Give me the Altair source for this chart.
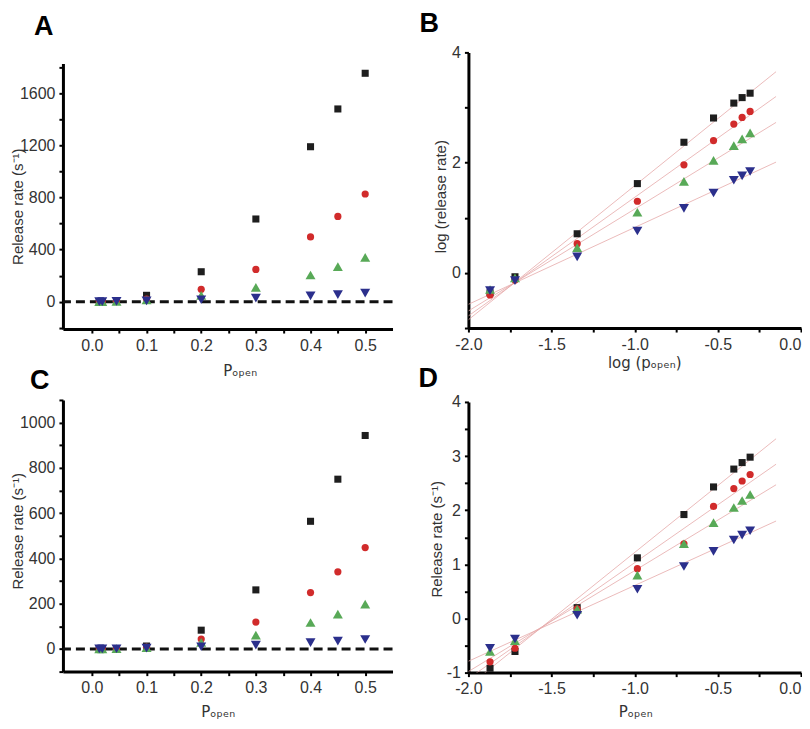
import altair as alt
import pandas as pd

# ---------------- data ----------------
p_open = [0.0135, 0.019, 0.045, 0.1, 0.2, 0.3, 0.4, 0.45, 0.5]
log_p_open = [-1.87, -1.72, -1.346, -0.984, -0.704, -0.526, -0.404, -0.354, -0.306]

series = ["black", "red", "green", "blue"]
colors = ["#1e1e1e", "#d12b2b", "#58a957", "#2b2f8c"]
shapes = ["square", "circle", "triangle-up", "triangle-down"]
sizes = [50, 52, 100, 100]

# Panel A: release rate (s-1) vs Popen
a_black = [0.4, 0.9, 5, 49, 230, 635, 1190, 1480, 1754]
a_red = [0.4, 0.7, 3.4, 20, 95, 248, 497, 655, 827]
a_green = [0.5, 0.8, 2.9, 13, 48, 110, 205, 269, 340]
a_blue = [0.5, 0.7, 1.9, 6, 15, 27, 45, 54, 66]

# Panel B: log(release rate) vs log(Popen)
b_black = [-0.36, -0.07, 0.71, 1.62, 2.37, 2.81, 3.08, 3.18, 3.26]
b_red = [-0.40, -0.13, 0.53, 1.30, 1.96, 2.40, 2.70, 2.82, 2.93]
b_green = [-0.30, -0.09, 0.46, 1.10, 1.66, 2.04, 2.31, 2.43, 2.54]
b_blue = [-0.32, -0.14, 0.29, 0.76, 1.17, 1.45, 1.68, 1.76, 1.84]

# Panel C
c_black = [0.12, 0.25, 1.6, 13, 83, 261, 564, 750, 943]
c_red = [0.16, 0.28, 1.5, 8, 44, 119, 249, 341, 448]
c_green = [0.25, 0.39, 1.5, 6, 29, 61, 117, 154, 198]
c_blue = [0.28, 0.42, 1.15, 3.5, 10, 17, 28, 35, 42]

# Panel D
d_black = [-0.92, -0.61, 0.20, 1.12, 1.92, 2.43, 2.76, 2.88, 2.98]
d_red = [-0.80, -0.55, 0.18, 0.92, 1.38, 2.07, 2.40, 2.54, 2.66]
d_green = [-0.61, -0.41, 0.17, 0.80, 1.38, 1.77, 2.05, 2.18, 2.29]
d_blue = [-0.55, -0.38, 0.06, 0.54, 0.96, 1.24, 1.45, 1.54, 1.62]

# linear fits (value at x=-2.0 and x=-0.15)
fit_x = [-2.0, -0.15]
b_fits = {"black": [-0.85, 3.65], "red": [-0.78, 3.20], "green": [-0.69, 2.73], "blue": [-0.57, 2.01]}
d_fits = {"black": [-1.25, 3.32], "red": [-1.11, 2.85], "green": [-0.98, 2.47], "blue": [-0.79, 1.80]}

# ---------------- helpers ----------------
NARROW = "Liberation Sans Narrow, Liberation Sans, Arial, sans-serif"
SANS = "Liberation Sans, Arial, sans-serif"
SUBFONT = "DejaVu Sans, Liberation Sans, sans-serif"
P_OPEN = "P\u2092\u209a\u2091\u2099"
LOG_P = "log (p\u2092\u209a\u2091\u2099)"
RATE = "Release rate (s\u207b\u00b9)"

size_of = dict(zip(series, sizes))


def points_df(x, ys):
    rows = []
    for s, yv in zip(series, ys):
        for xi, yi in zip(x, yv):
            rows.append({"x": xi, "y": yi, "series": s})
    df = pd.DataFrame(rows)
    df["order"] = df["series"].map({s: i for i, s in enumerate(series)})
    df["sz"] = df["series"].map(size_of)
    return df


def fits_df(fits):
    rows = []
    for s in series:
        for xi, yi in zip(fit_x, fits[s]):
            rows.append({"x": xi, "y": yi, "series": s})
    return pd.DataFrame(rows)


def frange(a, b, step):
    out = []
    v = a
    while v <= b + 1e-9:
        out.append(round(v, 4))
        v += step
    return out


def make_axis(values, label_expr, title, tx, ty, title_font=SANS, label_align=None):
    kw = dict(
        values=values, labelExpr=label_expr, title=title, grid=False,
        domainWidth=3, domainColor="black", tickColor="black", tickWidth=2,
        tickSize=4, labelFont=NARROW, labelFontSize=16, labelColor="#333",
        labelPadding=4, labelFlush=False, labelOverlap=False,
        titleFont=title_font, titleFontSize=15, titleFontWeight="normal",
        titleColor="#333", titleX=tx, titleY=ty,
    )
    if label_align is not None:
        kw["labelAlign"] = label_align
    return alt.Axis(**kw)


color_enc = alt.Color("series:N", scale=alt.Scale(domain=series, range=colors), legend=None)
shape_enc = alt.Shape("series:N", scale=alt.Scale(domain=series, range=shapes), legend=None)
size_enc = alt.Size("sz:Q", scale=None, legend=None)
order_enc = alt.Order("order:Q")


def panel(pts, xdom, ydom, xaxis, yaxis, letter, lx, ly, w, h, fits=None, zero=False):
    xs = alt.Scale(domain=xdom, nice=False, zero=False)
    ys = alt.Scale(domain=ydom, nice=False, zero=False)
    layers = []
    if fits is not None:
        layers.append(
            alt.Chart(fits).mark_line(clip=True, color="#e6a9a9", strokeWidth=0.8).encode(
                x=alt.X("x:Q", scale=xs, axis=xaxis),
                y=alt.Y("y:Q", scale=ys, axis=yaxis),
                detail="series:N",
            )
        )
    if zero:
        layers.append(
            alt.Chart(pd.DataFrame({"y0": [0]})).mark_rule(
                color="#111", strokeWidth=3, strokeDash=[9, 5]
            ).encode(y=alt.Y("y0:Q", scale=ys, axis=yaxis))
        )
    layers.append(
        alt.Chart(pts).mark_point(filled=True, opacity=1).encode(
            x=alt.X("x:Q", scale=xs, axis=xaxis),
            y=alt.Y("y:Q", scale=ys, axis=yaxis),
            color=color_enc, shape=shape_enc, size=size_enc, order=order_enc,
        )
    )
    layers.append(
        alt.Chart(pd.DataFrame({"t": [letter]})).mark_text(
            align="left", baseline="alphabetic", fontSize=27, fontWeight="bold",
            font=SANS, color="black",
        ).encode(x=alt.value(lx), y=alt.value(ly), text="t:N")
    )
    return alt.layer(*layers).properties(width=w, height=h)


lin_x_vals = frange(0.0, 0.5, 0.05)
lin_x_expr = "abs(round(datum.value*100)) % 10 == 0 ? format(datum.value, '.1f') : ''"
log_x_vals = frange(-2.0, 0.0, 0.25)
log_x_expr = "abs(round(datum.value*100)) % 50 == 0 ? replace(format(datum.value, '.1f'), '\u2212', '-') : ''"
log_align = {"expr": "datum.value == 0 ? 'right' : 'center'"}

A = panel(
    points_df(p_open, [a_black, a_red, a_green, a_blue]),
    [-0.053, 0.55], [-210, 1830],
    make_axis(lin_x_vals, lin_x_expr, P_OPEN, 177, 35, SUBFONT),
    make_axis(frange(-200, 1800, 200), "datum.value % 400 == 0 ? format(datum.value, 'd') : ''", RATE, -37, 143),
    "A", -29, -28, 330, 266, zero=True,
)
B = panel(
    points_df(log_p_open, [b_black, b_red, b_green, b_blue]),
    [-2.0, 0.0], [-1.0, 4.0],
    make_axis(log_x_vals, log_x_expr, LOG_P, 176, 28, SUBFONT, log_align),
    make_axis(frange(-1, 4, 1), "datum.value >= 0 && datum.value % 2 == 0 ? format(datum.value, 'd') : ''", "log (release rate)", -20, 144),
    "B", -49, -20, 333, 276, fits=fits_df(b_fits),
)
C = panel(
    points_df(p_open, [c_black, c_red, c_green, c_blue]),
    [-0.053, 0.55], [-100, 1100],
    make_axis(lin_x_vals, lin_x_expr, P_OPEN, 155, 33, SUBFONT),
    make_axis(frange(-100, 1100, 100), "datum.value % 200 == 0 ? format(datum.value, 'd') : ''", RATE, -37, 131),
    "C", -33, -11, 330, 272, zero=True,
)
D = panel(
    points_df(log_p_open, [d_black, d_red, d_green, d_blue]),
    [-2.0, 0.0], [-1.0, 4.0],
    make_axis(log_x_vals, log_x_expr, P_OPEN, 167, 32, SUBFONT, log_align),
    make_axis(frange(-1, 4, 0.5), "datum.value % 1 == 0 ? replace(format(datum.value, 'd'), '\u2212', '-') : ''", RATE, -24, 137),
    "D", -50, -15, 333, 271, fits=fits_df(d_fits),
)

# tiny invisible spacer so panel A can sit lower than panel B
spacer = alt.Chart(pd.DataFrame({"v": [0]})).mark_point(opacity=0, size=0).encode(
    x=alt.value(0), y=alt.value(0)
).properties(width=1, height=1)

left = alt.vconcat(alt.vconcat(spacer, A, spacing=-40), C, spacing=-12)
right = alt.vconcat(B, D, spacing=-6)
chart = alt.hconcat(left, right, spacing=24).properties(
    padding={"left": 3, "top": 2, "right": 0, "bottom": 0}
).configure_view(stroke=None)

chart.save("out.html", embed_options={"renderer": "svg", "actions": False})
